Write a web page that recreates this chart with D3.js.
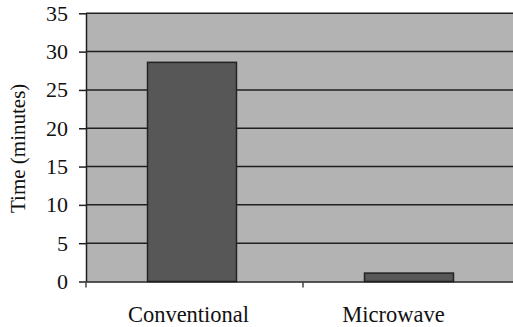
<!DOCTYPE html>
<html><head><meta charset="utf-8">
<script src="https://cdn.jsdelivr.net/npm/d3@7"></script>
<style>
html,body{margin:0;padding:0;background:#fff;}
svg{display:block;}
svg text{font-family:'Liberation Serif','Times New Roman',Times,serif !important;fill:#111;}
</style></head>
<body>
<svg id="chart" width="513" height="327"></svg>
<script>
const categories = ["Conventional", "Microwave"];
const values = [28.6, 1.1];
const yTicks = [0, 5, 10, 15, 20, 25, 30, 35];
const yTitle = "Time (minutes)";

const svg = d3.select("#chart");
const pLeft = 86, pRight = 520, pTop = 13.3, pBottom = 281.5;
const serif = "'Liberation Serif','Times New Roman',Times,serif";

const x = d3.scaleBand().domain(categories).range([pLeft, pRight]).padding(0);
const y = d3.scaleLinear().domain([0, 35]).range([pBottom, pTop]);

// plot background
svg.append("rect").attr("x", pLeft).attr("y", pTop).attr("width", pRight - pLeft).attr("height", pBottom - pTop)
  .attr("fill", "#b3b3b3");

// gridlines
svg.append("g").selectAll("line").data(yTicks.filter(d => d > 0)).join("line")
  .attr("x1", pLeft).attr("x2", pRight)
  .attr("y1", d => y(d)).attr("y2", d => y(d))
  .attr("stroke", "#1f1f1f").attr("stroke-width", 1.5);

// bars
const bw = x.bandwidth() * 0.41;
svg.append("g").selectAll("rect").data(categories).join("rect")
  .attr("x", d => x(d) + (x.bandwidth() - bw) / 2 - 2.5)
  .attr("width", bw)
  .attr("y", (d, i) => y(values[i]))
  .attr("height", (d, i) => y(0) - y(values[i]))
  .attr("fill", "#575757").attr("stroke", "#222").attr("stroke-width", 1.5);

// y axis
const yAxis = d3.axisLeft(y).tickValues(yTicks).tickSize(7).tickPadding(11).tickSizeOuter(0);
const gy = svg.append("g").attr("transform", `translate(${pLeft},0)`).call(yAxis)
  .attr("font-family", serif).attr("font-size", 22);
gy.select(".domain").attr("stroke", "#1f1f1f").attr("stroke-width", 1.5);
gy.selectAll(".tick line").attr("stroke", "#1f1f1f").attr("stroke-width", 1.5);
gy.selectAll(".tick text").style("font-family", serif).style("font-size", "22px").attr("fill", "#111");

// x axis
const xAxis = d3.axisBottom(x).tickSize(0).tickSizeOuter(0).tickFormat("");
const gx = svg.append("g").attr("transform", `translate(0,${pBottom})`).call(xAxis);
gx.select(".domain").attr("stroke", "#1f1f1f").attr("stroke-width", 1.5);
// boundary ticks
const bounds = categories.map(c => x(c)).concat([pRight]);
gx.selectAll(".bt").data(bounds).join("line").attr("class", "bt")
  .attr("x1", d => d).attr("x2", d => d).attr("y1", 0).attr("y2", 6)
  .attr("stroke", "#444").attr("stroke-width", 1.5);

// category labels
const offsets = [-6, -18];
svg.append("g").selectAll("text").data(categories).join("text")
  .attr("x", (d, i) => x(d) + x.bandwidth() / 2 + offsets[i])
  .attr("y", 321.5)
  .attr("text-anchor", "middle")
  .style("font-family", serif).style("font-size", "22.5px")
  .text(d => d);

// y title
svg.append("text")
  .attr("transform", "translate(25,213) rotate(-90)")
  .attr("text-anchor", "start")
  .style("font-family", serif).style("font-size", "21px")
  .text(yTitle);
</script>
</body></html>
